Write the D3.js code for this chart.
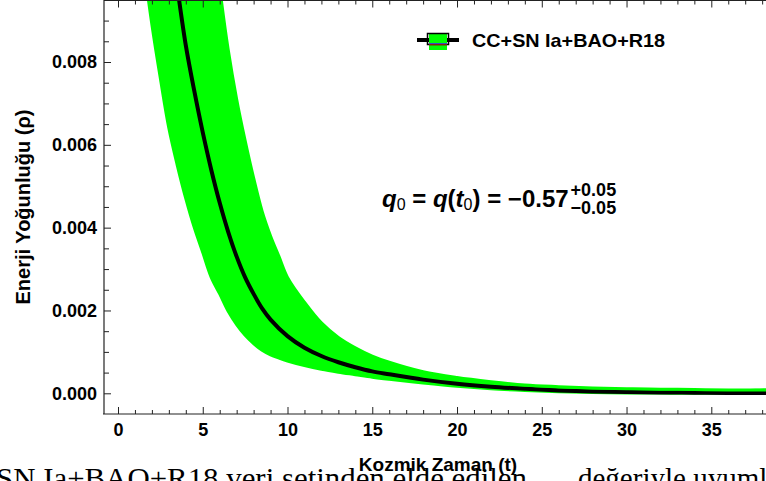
<!DOCTYPE html>
<html>
<head>
<meta charset="utf-8">
<script src="https://cdn.jsdelivr.net/npm/d3@7"></script>
<style>
  body { margin: 0; background: #fff; }
  svg { display: block; }
</style>
</head>
<body>
<div id="chart"></div>
<script>
// values
const centerT = [3.3, 3.5, 4, 4.5, 5, 5.5, 6, 6.5, 7, 7.5, 8, 8.5, 9, 10, 11, 12, 13, 14, 15, 16, 18, 20, 22, 24, 26, 28, 30, 32, 34, 36, 39];
const centerRho = [0.0104, 0.0098, 0.0084, 0.0073, 0.0063, 0.0054, 0.0046, 0.0039, 0.0033, 0.0028, 0.0024, 0.00205, 0.00178, 0.00138, 0.0011, 0.0009, 0.00075, 0.00063, 0.00053, 0.00046, 0.00033, 0.00023, 0.00016, 0.00011, 0.00007, 0.000045, 0.00003, 0.00002, 0.000015, 0.00001, 0.00001];

const upperT = [5.8, 6, 6.5, 7, 7.5, 8, 8.5, 9, 9.5, 10, 11, 12, 13, 14, 15, 16, 18, 20, 22, 24, 26, 28, 30, 32, 34, 36, 39];
const upperRho = [0.0105, 0.0098, 0.0083, 0.0071, 0.0061, 0.0052, 0.0044, 0.0038, 0.0033, 0.0028, 0.0022, 0.0017, 0.00135, 0.0011, 0.0009, 0.00075, 0.00052, 0.00038, 0.00028, 0.0002, 0.00016, 0.00013, 0.00011, 0.0001, 0.00009, 0.00008, 0.00008];

const lowerT = [1.5, 2, 2.5, 3, 3.5, 4, 4.5, 5, 5.5, 6, 6.5, 7, 7.5, 8, 8.5, 9, 9.5, 10, 11, 12, 13, 14, 15, 16, 18, 20, 22, 24, 26, 28, 30, 32, 34, 36, 39];
const lowerRho = [0.0104, 0.0089, 0.0076, 0.0064, 0.0055, 0.0047, 0.004, 0.0034, 0.0028, 0.0024, 0.00198, 0.00166, 0.0014, 0.0012, 0.00104, 0.00093, 0.00085, 0.00078, 0.00067, 0.00058, 0.00051, 0.00045, 0.00039, 0.00034, 0.00025, 0.00017, 0.00011, 0.00007, 0.00004, 0.00002, 0.00001, 0.000005, 0, 0, 0];

const xTicks = [0, 5, 10, 15, 20, 25, 30, 35];
const yTicks = [0, 0.002, 0.004, 0.006, 0.008];
const seriesLabel = "CC+SN Ia+BAO+R18";
const xTitle = "Kozmik Zaman (t)";
const yTitle = "Enerji Yoğunluğu (ρ)";

const width = 766, height = 481;
const axisLeftX = 104, axisBottomY = 414;
const sans = '"Liberation Sans", Arial, sans-serif';
const serif = '"Liberation Serif", "Times New Roman", serif';

const svg = d3.select('#chart').append('svg')
  .attr('width', width)
  .attr('height', height)
  .attr('font-family', sans);

svg.append('rect').attr('width', width).attr('height', height).attr('fill', '#fff');

const x = d3.scaleLinear().domain([0, 35]).range([118, 711.3]);
const y = d3.scaleLinear().domain([0, 0.008]).range([393.3, 62]);

svg.append('clipPath').attr('id', 'clip')
  .append('rect').attr('x', axisLeftX).attr('y', 0).attr('width', width - axisLeftX).attr('height', axisBottomY);
const area = svg.append('g').attr('clip-path', 'url(#clip)');

const upper = upperT.map((t, i) => [t, upperRho[i]]);
const lower = lowerT.map((t, i) => [t, lowerRho[i]]);
const center = centerT.map((t, i) => [t, centerRho[i]]);

const line = d3.line().x(d => x(d[0])).y(d => y(d[1])).curve(d3.curveCatmullRom.alpha(0.5));

// band = upper curve, then lower curve back
area.append('path')
  .attr('d', line(upper.concat(lower.slice().reverse())) + 'Z')
  .attr('fill', '#00ff00');

area.append('path')
  .attr('d', line(lower))
  .attr('fill', 'none')
  .attr('stroke', '#00ff00')
  .attr('stroke-width', 3);

area.append('path')
  .attr('d', line(center))
  .attr('fill', 'none')
  .attr('stroke', '#000')
  .attr('stroke-width', 4);

area.append('path')
  .attr('d', line(upper))
  .attr('fill', 'none')
  .attr('stroke', '#00ff00')
  .attr('stroke-width', 3);

// axes
const axisColor = '#222';
const minorX = d3.range(0, 39).filter(v => v % 5 !== 0);
const minorY = d3.range(0, 0.0096, 0.0005).filter((v, i) => i % 4 !== 0);

function styleAxis(g) {
  g.select('.domain').remove();
  g.selectAll('line').attr('stroke', axisColor);
  g.selectAll('text')
    .attr('fill', '#000')
    .attr('font-weight', 'bold')
    .attr('font-size', 18)
    .attr('font-family', sans);
}

svg.append('g')
  .attr('transform', `translate(0,${axisBottomY})`)
  .call(d3.axisBottom(x).tickValues(xTicks).tickSizeInner(-7).tickSizeOuter(0).tickPadding(9).tickFormat(d3.format('d')))
  .call(styleAxis);
svg.append('g')
  .attr('transform', `translate(0,${axisBottomY})`)
  .call(d3.axisBottom(x).tickValues(minorX).tickSizeInner(-4).tickSizeOuter(0).tickFormat(''))
  .call(styleAxis);

// top frame
svg.append('g')
  .attr('transform', 'translate(0,0.5)')
  .call(d3.axisTop(x).tickValues(xTicks).tickSizeInner(-7).tickSizeOuter(0).tickFormat(''))
  .call(styleAxis);
svg.append('g')
  .attr('transform', 'translate(0,0.5)')
  .call(d3.axisTop(x).tickValues(minorX).tickSizeInner(-4).tickSizeOuter(0).tickFormat(''))
  .call(styleAxis);

svg.append('g')
  .attr('transform', `translate(${axisLeftX},0)`)
  .call(d3.axisLeft(y).tickValues(yTicks).tickSizeInner(-7).tickSizeOuter(0).tickPadding(7).tickFormat(d3.format('.3f')))
  .call(styleAxis);
svg.append('g')
  .attr('transform', `translate(${axisLeftX},0)`)
  .call(d3.axisLeft(y).tickValues(minorY).tickSizeInner(-5).tickSizeOuter(0).tickFormat(''))
  .call(styleAxis);

svg.append('line')
  .attr('x1', axisLeftX - 1).attr('x2', width)
  .attr('y1', axisBottomY).attr('y2', axisBottomY)
  .attr('stroke', axisColor).attr('stroke-width', 1.2);
svg.append('line')
  .attr('x1', axisLeftX).attr('x2', width)
  .attr('y1', 0.5).attr('y2', 0.5)
  .attr('stroke', axisColor).attr('stroke-width', 1.2);
svg.append('line')
  .attr('x1', axisLeftX).attr('x2', axisLeftX)
  .attr('y1', 0).attr('y2', axisBottomY)
  .attr('stroke', axisColor).attr('stroke-width', 1.2);

// caption from the page below the figure (cut off)
svg.append('text')
  .attr('x', -4).attr('y', 488)
  .attr('font-family', serif)
  .attr('font-size', 29)
  .attr('textLength', 531).attr('lengthAdjust', 'spacingAndGlyphs')
  .text('SN Ia+BAO+R18 veri setinden elde edilen');
svg.append('text')
  .attr('x', 578).attr('y', 488)
  .attr('font-family', serif)
  .attr('font-size', 29)
  .text('değeriyle uyumlu');

// axis titles
svg.append('text')
  .attr('x', 438).attr('y', 471)
  .attr('text-anchor', 'middle')
  .attr('font-weight', 'bold').attr('font-size', 19)
  .text(xTitle);
svg.append('text')
  .attr('transform', 'translate(29.5,207) rotate(-90)')
  .attr('text-anchor', 'middle')
  .attr('font-weight', 'bold').attr('font-size', 20)
  .text(yTitle);

// legend
const lg = svg.append('g');
lg.append('line').attr('x1', 417).attr('x2', 459).attr('y1', 40).attr('y2', 40)
  .attr('stroke', '#000').attr('stroke-width', 4);
lg.append('rect').attr('x', 429).attr('y', 34).attr('width', 18).attr('height', 16).attr('fill', '#00ff00');
lg.append('rect').attr('x', 427.5).attr('y', 33.5).attr('width', 21).attr('height', 11)
  .attr('fill', 'none').attr('stroke', '#000').attr('stroke-width', 1.5);
lg.append('line').attr('x1', 429).attr('x2', 447).attr('y1', 43.5).attr('y2', 43.5)
  .attr('stroke', '#3050c0').attr('stroke-width', 1);
lg.append('line').attr('x1', 429).attr('x2', 447).attr('y1', 44.8).attr('y2', 44.8)
  .attr('stroke', '#c03020').attr('stroke-width', 1);
lg.append('text')
  .attr('x', 472).attr('y', 47)
  .attr('font-weight', 'bold').attr('font-size', 19)
  .attr('textLength', 193).attr('lengthAdjust', 'spacingAndGlyphs')
  .text(seriesLabel);

// q0 annotation
const annX = 382;
const ann = svg.append('text')
  .attr('x', annX).attr('y', 207)
  .attr('font-weight', 'bold').attr('font-size', 24);
ann.append('tspan').attr('font-style', 'italic').text('q');
ann.append('tspan').attr('font-weight', 'normal').attr('font-size', 16).attr('dy', 3).text('0');
ann.append('tspan').attr('dy', -3).text(' = ');
ann.append('tspan').attr('font-style', 'italic').text('q');
ann.append('tspan').text('(');
ann.append('tspan').attr('font-style', 'italic').text('t');
ann.append('tspan').attr('font-weight', 'normal').attr('font-size', 16).attr('dy', 3).text('0');
ann.append('tspan').attr('dy', -3).text(') = \u22120.57');
const annEnd = annX + ann.node().getComputedTextLength() + 2;
svg.append('text').attr('x', annEnd).attr('y', 196)
  .attr('font-weight', 'bold').attr('font-size', 18).text('+0.05');
svg.append('text').attr('x', annEnd).attr('y', 214)
  .attr('font-weight', 'bold').attr('font-size', 18).text('\u22120.05');
</script>
</body>
</html>
